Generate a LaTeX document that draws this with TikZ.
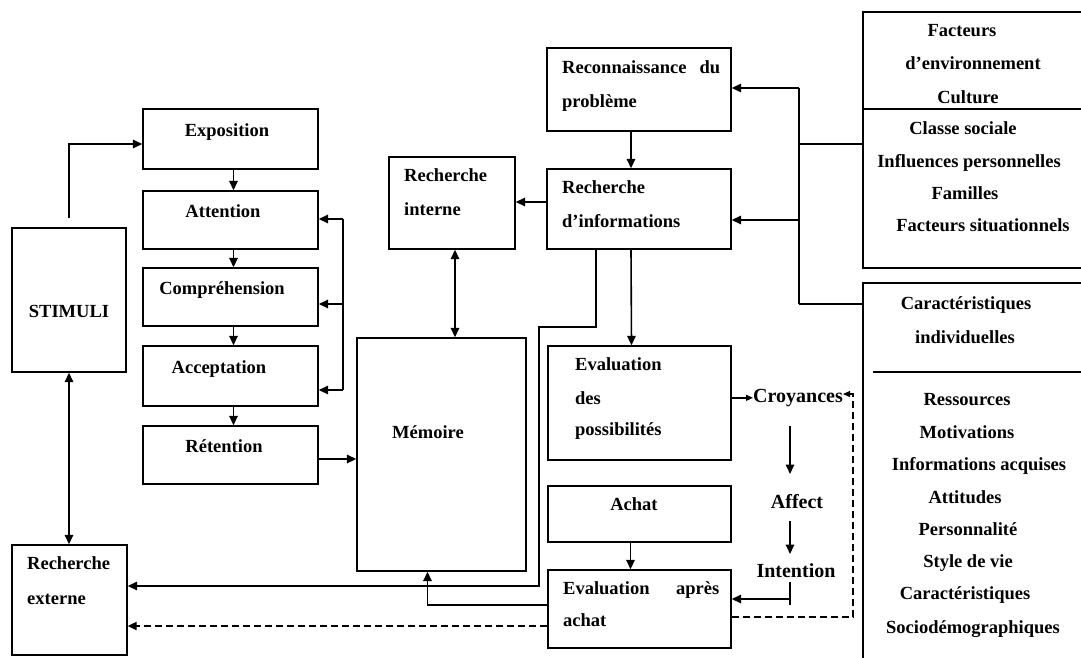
\documentclass[tikz,border=0pt]{standalone}
\usepackage{fontspec}
\setmainfont{Liberation Serif}
\usetikzlibrary{arrows.meta,calc}

% rectangle node given by its corners (x1,y1) and (x2,y2)
\newcommand\boxnode[5]{%
  \node[box,minimum width={#4-#2},minimum height={#5-#3}] (#1) at ({(#2+#4)/2},{(#3+#5)/2}) {};}

\begin{document}
\begin{tikzpicture}[x=1pt,y=-1pt,
  box/.style={draw,rectangle,line width=1.4pt,inner sep=0pt},
  txt/.style={inner sep=0pt,yshift=-3pt,font=\bfseries\fontsize{18.5}{20}\selectfont},
  big/.style={inner sep=0pt,yshift=-3pt,font=\bfseries\fontsize{20}{22}\selectfont},
  ln/.style={line width=1.6pt},
  arr/.style={line width=1.6pt,-{Triangle[length=9.5pt,width=8.5pt]}},
  arrs/.style={line width=1.6pt,{Triangle[length=9.5pt,width=8.5pt]}-{Triangle[length=9.5pt,width=8.5pt]}},
  arrsmall/.style={line width=1.4pt,-{Triangle[length=7pt,width=6pt]}},
  thickdash/.style={line width=2.2pt,dash pattern=on 7pt off 4pt,-{Triangle[length=9pt,width=8pt]}},
  thindash/.style={line width=1.2pt,dash pattern=on 7pt off 4pt,-{Triangle[length=7pt,width=6pt]}},
]
\useasboundingbox (0,0) rectangle (1081,657);

% ---------- boxes ----------
\boxnode{stimuli}{12}{228}{126}{372}
\boxnode{expo}{143}{109}{318}{169}
\boxnode{atten}{143}{191}{318}{249}
\boxnode{compr}{143}{268}{318}{326}
\boxnode{accep}{143}{346}{318}{406}
\boxnode{reten}{143}{426}{318}{484}
\boxnode{rext}{12}{545}{127}{655}
\boxnode{memoire}{357}{338}{526}{571}
\boxnode{rint}{389}{157}{515}{249}
\boxnode{reco}{547}{48}{731}{131}
\boxnode{rinfo}{547}{169}{731}{249}
\boxnode{evalposs}{548}{346}{731}{460}
\boxnode{achat}{548}{486}{731}{542}
\boxnode{evalachat}{548}{570}{731}{648}
\boxnode{envbox}{863}{12}{1084}{268}
\boxnode{indbox}{863}{283}{1084}{662}
\draw[line width=1.4pt] (envbox.west |- 0,109) -- (envbox.east |- 0,109);
\draw[line width=1.4pt] (873,372) -- (indbox.east |- 0,372);

% ---------- texts ----------
\node[txt,anchor=mid] (tstim) at (69,312) {STIMULI};
\node[txt,anchor=mid] (texpo) at (227,131) {Exposition};
\node[txt,anchor=mid] (tatt) at (223,212) {Attention};
\node[txt,anchor=mid] (tcomp) at (222,289) {Compréhension};
\node[txt,anchor=mid] (tacc) at (219,368) {Acceptation};
\node[txt,anchor=mid] (tret) at (224,447) {Rétention};
\node[txt,anchor=mid] (tmem) at (428,433) {Mémoire};
\node[txt,anchor=mid] (tachat) at (634,505) {Achat};

\node[txt,anchor=mid west] (text1) at (27,564) {Recherche};
\node[txt,anchor=mid west] (text2) at (27,599) {externe};
\node[txt,anchor=mid west] (tint1) at (404,176) {Recherche};
\node[txt,anchor=mid west] (tint2) at (404,210) {interne};
\node[txt,anchor=mid west] (treco1) at (562,68) {\hbox to 158pt{Reconnaissance\hfill du}};
\node[txt,anchor=mid west] (treco2) at (562,102) {problème};
\node[txt,anchor=mid west] (tinfo1) at (562,188) {Recherche};
\node[txt,anchor=mid west] (tinfo2) at (562,222) {d’informations};
\node[txt,anchor=mid west] (tposs1) at (575,365) {Evaluation};
\node[txt,anchor=mid west] (tposs2) at (575,399) {des};
\node[txt,anchor=mid west] (tposs3) at (575,430) {possibilités};
\node[txt,anchor=mid west] (tapr1) at (563,589) {\hbox to 156pt{Evaluation\hfill après}};
\node[txt,anchor=mid west] (tapr2) at (563,621) {achat};

\node[txt,anchor=mid] (r1) at (962,31) {Facteurs};
\node[txt,anchor=mid] (r2) at (973,64) {d’environnement};
\node[txt,anchor=mid] (r3) at (968,98) {Culture};
\node[txt,anchor=mid] (r4) at (963,129) {Classe sociale};
\node[txt,anchor=mid] (r5) at (969,162) {Influences personnelles};
\node[txt,anchor=mid] (r6) at (965,194) {Familles};
\node[txt,anchor=mid] (r7) at (983,226) {Facteurs situationnels};

\node[txt,anchor=mid] (s1) at (966,304) {Caractéristiques};
\node[txt,anchor=mid] (s2) at (965,338) {individuelles};
\node[txt,anchor=mid] (s3) at (967,400) {Ressources};
\node[txt,anchor=mid] (s4) at (967,433) {Motivations};
\node[txt,anchor=mid] (s5) at (979,465) {Informations acquises};
\node[txt,anchor=mid] (s6) at (965,498) {Attitudes};
\node[txt,anchor=mid] (s7) at (968,530) {Personnalité};
\node[txt,anchor=mid] (s8) at (968,562) {Style de vie};
\node[txt,anchor=mid] (s9) at (965,594) {Caractéristiques};
\node[txt,anchor=mid] (s10) at (973,628) {Sociodémographiques};

\node[big,anchor=mid] (croy) at (798,397) {Croyances};
\node[big,anchor=mid] (affect) at (797,503) {Affect};
\node[big,anchor=mid] (intention) at (796,572) {Intention};

% ---------- left column ----------
\draw[arr] ($(stimuli.north)+(0,-9)$) |- ($(expo.west)+(0,5)$);
\draw[arr] ([xshift=3pt]expo.south) -- ([xshift=3pt]atten.north);
\draw[arr] ([xshift=3pt]atten.south) -- ([xshift=3pt]compr.north);
\draw[arr] ([xshift=3pt]compr.south) -- ([xshift=3pt]accep.north);
\draw[arr] ([xshift=3pt]accep.south) -- ([xshift=3pt]reten.north);
\draw[arrs] (stimuli.south) -- (stimuli.south |- rext.north);

% feedback bracket on the stages
\coordinate (fbtop) at (343,219);
\coordinate (fbmid) at (343,304);
\coordinate (fbbot) at (343,390);
\draw[ln] (fbtop) -- (fbbot);
\draw[arr] (fbtop) -- (fbtop -| atten.east);
\draw[arr] (fbmid) -- (fbmid -| compr.east);
\draw[arr] (fbbot) -- (fbbot -| accep.east);

\draw[arr] ($(reten.east)+(0,4)$) -- ($(reten.east -| memoire.west)+(0,4)$);

% ---------- middle ----------
\draw[arrs] ([xshift=3pt]rint.south) -- ([xshift=3pt]rint.south |- memoire.north);
\draw[arr] ($(rinfo.west)+(0,-7)$) -- ($(rinfo.west -| rint.east)+(0,-7)$);
\draw[arr] ([xshift=-8pt]reco.south) -- ([xshift=-8pt]rinfo.north);
\draw[arr] ([xshift=-8pt]rinfo.south) -- ([xshift=-8pt]evalposs.north);
\draw[arr] ([xshift=-43pt]rinfo.south) -- ++(0,77) -- ++(-57,0) |- ($(rext.east)+(0,-14)$);
\draw[arr] ($(evalachat.west)+(0,-4)$) -| ($(memoire.south)+(-14,0)$);
\draw[thickdash] ($(evalachat.west)+(0,17)$) -- ($(evalachat.west -| rext.east)+(0,17)$);
\draw[arr] ([xshift=-9pt]achat.south) -- ([xshift=-9pt]evalachat.north);

% ---------- attitude chain ----------
\draw[arrsmall] (croy.west -| evalposs.east) -- (croy.west);
\coordinate (ca) at (790,426);
\coordinate (cb) at (790,474);
\coordinate (cc) at (790,521);
\coordinate (cd) at (790,554);
\coordinate (ce) at (790,582);
\coordinate (cf) at (790,605);
\coordinate (cg) at (790,599);
\draw[arr] (ca) -- (cb);
\draw[arr] (cc) -- (cd);
\draw[ln] (ce) -- (cf);
\draw[arr] (cg) -- (cg -| evalachat.east);
\coordinate (dd1) at (853,617);
\coordinate (dd2) at (853,394);
\draw[thindash] (dd1 -| evalachat.east) -- (dd1) -- (dd2) -- (croy.east |- dd2);

% ---------- external influences ----------
\coordinate (spA) at (799,88);
\coordinate (spD) at (799,144);
\coordinate (spC) at (799,220);
\coordinate (spB) at (799,304);
\draw[ln] (spA) -- (spB);
\draw[ln] (spD) -- (spD -| envbox.west);
\draw[ln] (spB) -- (spB -| indbox.west);
\draw[arr] (spA) -- (spA -| reco.east);
\draw[arr] (spC) -- (spC -| rinfo.east);
\end{tikzpicture}
\end{document}
